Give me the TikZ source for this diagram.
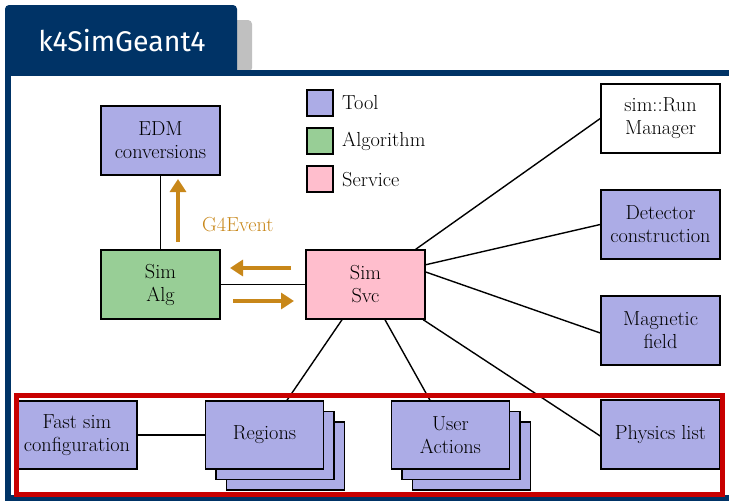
\documentclass[tikz,border=0pt]{standalone}
\usepackage{fontspec}
\newfontfamily\tabfont{Fira Sans}
\usetikzlibrary{arrows.meta}
\definecolor{tabblue}{RGB}{0,51,102}
\definecolor{tabgray}{RGB}{192,192,192}
\definecolor{toolc}{RGB}{172,172,230}
\definecolor{algc}{RGB}{152,206,150}
\definecolor{svcc}{RGB}{255,190,205}
\definecolor{orangec}{RGB}{200,135,25}
\definecolor{redc}{RGB}{200,0,0}
\begin{document}
\begin{tikzpicture}[x=1pt,y=-1pt,
  every node/.style={font=\fontsize{20.3}{23}\selectfont},
  box/.style={draw=black,line width=1.5pt,minimum width=119pt,minimum height=69pt,inner sep=0pt,align=center},
  tool/.style={box,fill=toolc},
  alg/.style={box,fill=algc},
  svc/.style={box,fill=svcc},
  plain/.style={box,fill=white},
  legsq/.style={draw=black,line width=1.5pt,minimum width=26pt,minimum height=26pt,inner sep=0pt},
  link/.style={line width=1.4pt,black},
  flow/.style={line width=4pt,orangec,-{Triangle[width=16pt,length=13pt]}}
]
\useasboundingbox (0,0) rectangle (729,501);
\fill[white] (0,0) rectangle (729,501);
% tab
\fill[tabgray,rounded corners=4pt] (230,20) -- (252,20) -- (252,72) -- (230,72) -- cycle;
\fill[tabblue,rounded corners=4pt] (5,72) -- (5,5) -- (237,5) -- (237,72);
\fill[tabblue] (5,60) rectangle (237,72);
\node[text=white,font=\tabfont\fontsize{28.5}{32}\selectfont] (tab) at (122,41) {k4SimGeant4};
% frame
\fill[tabblue] (5,70) rectangle (740,501);
\fill[white] (11,76) rectangle (740,495);
% nodes
\node[tool] (edm) at (160.5,140.5) {EDM\\conversions};
\node[alg] (alg) at (160.5,284.5) {Sim\\Alg};
\node[svc] (svc) at (365.5,284.5) {Sim\\Svc};
\node[plain] (rm) at (660.5,118.5) {sim::Run\\Manager};
\node[tool] (det) at (660.5,224.5) {Detector\\construction};
\node[tool] (mag) at (660.5,330.5) {Magnetic\\field};
\node[tool] (phys) at (660.5,434.5) {Physics list};
\node[tool,minimum width=120pt,minimum height=68pt] (fast) at (77,435) {Fast sim\\configuration};
% stacks
\node[tool,minimum width=118pt,minimum height=68pt] (reg3) at (285.5,456) {};
\node[tool,minimum width=118pt,minimum height=68pt] (reg2) at (275,445.5) {};
\node[tool,minimum width=118pt,minimum height=68pt] (reg) at (264.5,435) {Regions};
\node[tool,minimum width=118pt,minimum height=68pt] (ua3) at (471.5,456) {};
\node[tool,minimum width=118pt,minimum height=68pt] (ua2) at (461,445.5) {};
\node[tool,minimum width=118pt,minimum height=68pt] (ua) at (450.5,435) {User\\Actions};
% legend
\node[legsq,fill=toolc] (lt) at (320,103) {};
\node[legsq,fill=algc] (la) at (320,141) {};
\node[legsq,fill=svcc] (ls) at (320,179) {};
\node[anchor=west,inner sep=0pt] (ltt) at (342,103) {Tool};
\node[anchor=west,inner sep=0pt] (lat) at (342,141) {Algorithm};
\node[anchor=west,inner sep=0pt] (lst) at (342,180) {Service};
% links
\draw[link] (edm.south) -- (alg.north);
\draw[link] (alg.east) -- (svc.east -| svc.west);
\draw[link] ([xshift=-10pt]svc.north east) -- (rm.west);
\draw[link] ([yshift=-15.5pt]svc.north east) -- (det.west);
\draw[link] ([yshift=12.5pt]svc.east) -- ([yshift=-2.5pt]mag.west);
\draw[link] ([xshift=-2.5pt]svc.south east) -- ([yshift=-1.5pt]phys.west);
\draw[link] ([xshift=-23.5pt]svc.south) -- ([xshift=22.5pt]reg.north);
\draw[link] ([xshift=19.5pt]svc.south) -- ([xshift=-20.5pt]ua.north);
\draw[link] (fast.east) -- (reg.west);
% flows
\coordinate (fu1) at (178,242);
\coordinate (fu2) at (178,179);
\draw[flow] (fu1) -- (fu2);
\node[text=orangec,anchor=west,inner sep=0pt] (g4) at (202,225) {G4Event};
\coordinate (fl1) at (291,268);
\coordinate (fl2) at (230,268);
\draw[flow] (fl1) -- (fl2);
\coordinate (fr1) at (233,301);
\coordinate (fr2) at (294,301);
\draw[flow] (fr1) -- (fr2);
% red highlight
\draw[redc,line width=5pt] (16.5,395.5) rectangle (722,494);
\end{tikzpicture}
\end{document}
